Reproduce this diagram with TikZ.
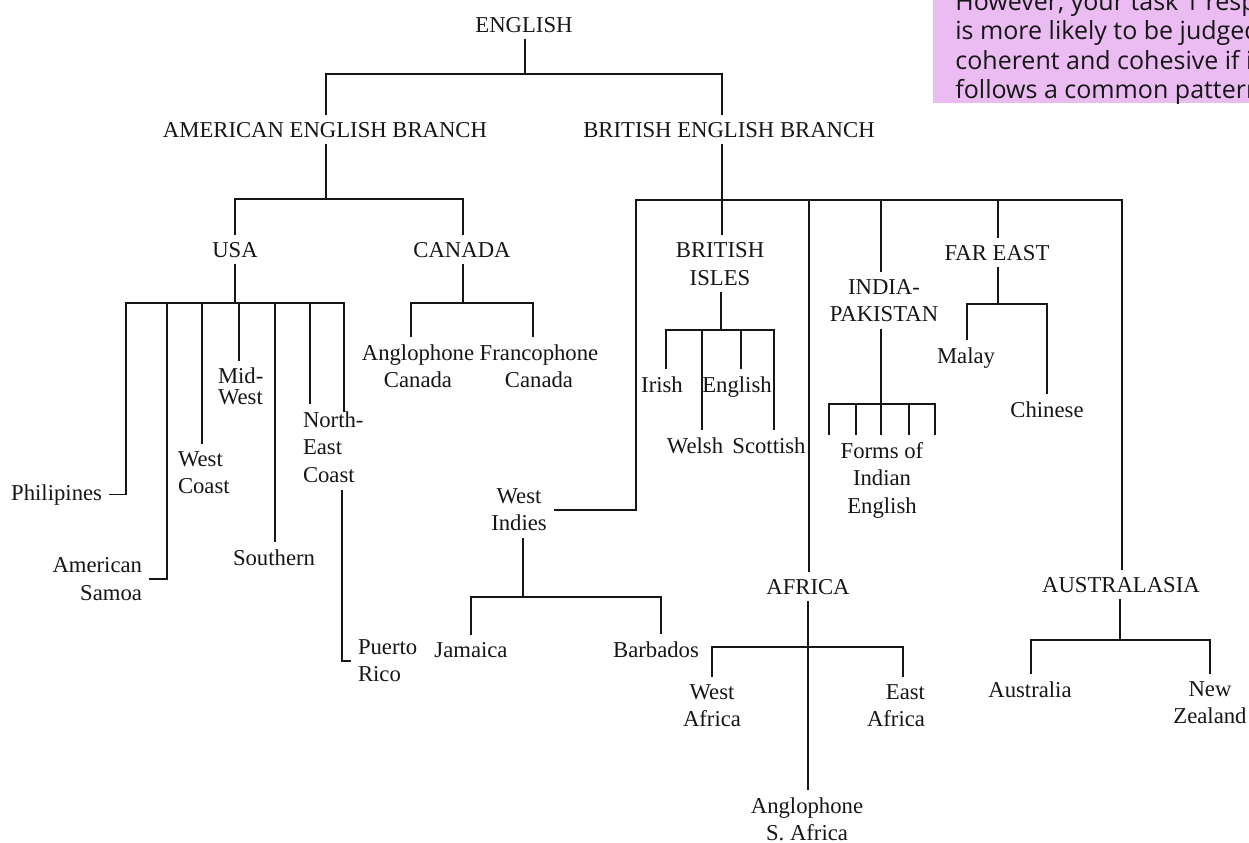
\documentclass[tikz,border=0pt]{standalone}
\usepackage{fontspec}
\setmainfont{Liberation Serif}
\newfontfamily\notefont{Open Sans}
\definecolor{notepink}{RGB}{234,188,242}
\definecolor{inkc}{RGB}{22,22,22}
\begin{document}
\begin{tikzpicture}[x=0.5pt,y=-0.5pt,
  lbl/.style={inner sep=0pt, outer sep=4pt, text=inkc, font=\fontsize{11.35}{13.75}\selectfont},
  ml/.style={lbl, align=center},
  conn/.style={line width=0.9pt, draw=inkc, line cap=rect}]
\useasboundingbox (0,0) rectangle (1249,842);
\fill[white] (0,0) rectangle (1249,842);
% note box
\begin{scope}
\clip (933,0) rectangle (1249,103);
\fill[notepink] (933,0) rectangle (1249,103);
\node (note) [anchor=base west, inner sep=0pt, text=inkc] at (955,10) {\notefont\fontsize{12.5}{14.75}\selectfont\begin{tabular}[t]{@{}l@{}}However, your task 1 response\\ is more likely to be judged\\ coherent and cohesive if it\\ follows a common pattern\end{tabular}};
\end{scope}
% labels
\node[lbl, anchor=base] (english) at (524,32) {ENGLISH};
\node[lbl, anchor=base] (amer) at (325,137) {AMERICAN ENGLISH BRANCH};
\node[lbl, anchor=base] (brit) at (729,137) {BRITISH ENGLISH BRANCH};
\node[lbl, anchor=base] (usa) at (235,257) {USA};
\node[lbl, anchor=base] (canada) at (462,257) {CANADA};
\node[lbl, anchor=base east] (phil) at (110,500) {Philipines};
\node[ml, align=right, anchor=north east] (samoa) at (150,549.5) {American\\Samoa};
\node[ml, align=left, anchor=north west] (westcoast) at (170,443.5) {West\\Coast};
\node[ml, align=left, anchor=north west] (midwest) at (210,360) {Mid-\\[-3.25pt]West};
\node[lbl, anchor=base] (southern) at (274,565) {Southern};
\node[ml, align=left, anchor=north west] (necoast) at (295,403.5) {North-\\East\\Coast};
\node[ml, align=left, anchor=north west] (puerto) at (350,631.5) {Puerto\\Rico};
\node[ml, anchor=north] (anglocan) at (418,336.5) {Anglophone\\Canada};
\node[ml, anchor=north] (francan) at (539,336.5) {Francophone\\Canada};
\node[ml, anchor=north] (westindies) at (519,480.5) {West\\Indies};
\node[lbl, anchor=base] (jamaica) at (471,657) {Jamaica};
\node[lbl, anchor=base] (barbados) at (656,657) {Barbados};
\node[ml, anchor=north] (britisles) at (720,234.5) {BRITISH\\ISLES};
\node[lbl, anchor=base] (irish) at (662,392) {Irish};
\node[lbl, anchor=base] (englishv) at (737,392) {English};
\node[lbl, anchor=base] (welsh) at (695,453) {Welsh};
\node[lbl, anchor=base] (scottish) at (769,453) {Scottish};
\node[lbl, anchor=base] (africa) at (808,594) {AFRICA};
\node[ml, anchor=north] (westafrica) at (712,676.5) {West\\Africa};
\node[ml, align=right, anchor=north east] (eastafrica) at (933,676.5) {East\\Africa};
\node[ml, anchor=north] (angsa) at (807,789.5) {Anglophone\\S. Africa};
\node[ml, anchor=north] (india) at (884,271.5) {INDIA-\\PAKISTAN};
\node[ml, anchor=north] (forms) at (882,434.5) {Forms of\\Indian\\English};
\node[lbl, anchor=base] (fareast) at (997,260) {FAR EAST};
\node[lbl, anchor=base] (malay) at (966,363) {Malay};
\node[lbl, anchor=base] (chinese) at (1047,417) {Chinese};
\node[lbl, anchor=base] (australasia) at (1121,592) {AUSTRALASIA};
\node[lbl, anchor=base] (australia) at (1030,697) {Australia};
\node[ml, anchor=north] (nz) at (1210,673.5) {New\\Zealand};
% junction coordinates
\coordinate (a0) at (525,74); \coordinate (a1) at (326,74); \coordinate (a2) at (722,74);
\coordinate (b0) at (326,199); \coordinate (b1) at (235,199); \coordinate (b2) at (463,199);
\coordinate (c0) at (235,303); \coordinate (c1) at (126,303); \coordinate (c2) at (167,303);
\coordinate (c3) at (202,303); \coordinate (c4) at (239,303); \coordinate (c5) at (275,303);
\coordinate (c6) at (310,303); \coordinate (c7) at (344,303); \coordinate (c8) at (342,303);
\coordinate (d0) at (463,303); \coordinate (d1) at (411,303); \coordinate (d2) at (533,303);
\coordinate (e0) at (722,200); \coordinate (e1) at (636,200); \coordinate (e2) at (722,200);
\coordinate (e3) at (809,200); \coordinate (e4) at (881,200); \coordinate (e5) at (998,200);
\coordinate (e6) at (1122,200);
\coordinate (f0) at (721,330); \coordinate (f1) at (666,330); \coordinate (f2) at (702,330);
\coordinate (f3) at (741,330); \coordinate (f4) at (774,330);
\coordinate (g0) at (881,404); \coordinate (g1) at (829,404); \coordinate (g2) at (856,404);
\coordinate (g3) at (881,404); \coordinate (g4) at (909,404); \coordinate (g5) at (935,404);
\coordinate (h0) at (998,304); \coordinate (h1) at (967,304); \coordinate (h2) at (1047,304);
\coordinate (i0) at (523,597); \coordinate (i1) at (471,597); \coordinate (i2) at (661,597);
\coordinate (j0) at (808,647); \coordinate (j1) at (712,647); \coordinate (j2) at (903,647);
\coordinate (k0) at (1120,640); \coordinate (k1) at (1031,640); \coordinate (k2) at (1210,640);
% connectors
\draw[conn] (english.south -| a0) -- (a0);
\draw[conn] (a1 |- amer.north) -- (a1) -- (a2) -- (a2 |- brit.north);
\draw[conn] (amer.south -| b0) -- (b0);
\draw[conn] (b1 |- usa.north) -- (b1) -- (b2) -- (b2 |- canada.north);
\draw[conn] (usa.south -| c0) -- (c0);
\draw[conn] (phil.east) -| (c1) -- (c7);
\draw[conn] (c2) |- (samoa.east);
\draw[conn] (c3) -- (c3 |- westcoast.north);
\draw[conn] (c4) -- (c4 |- midwest.north);
\draw[conn] (c5) -- (c5 |- southern.north);
\draw[conn] (c6) -- (c6 |- necoast.north);
\draw[conn] (c7) -- (c7 |- necoast.north) -- ++(0,8);
\draw[conn] (c8 |- necoast.south) |- (puerto.west);
\draw[conn] (canada.south -| d0) -- (d0);
\draw[conn] (d1 |- anglocan.north) -- (d1) -- (d2) -- (d2 |- francan.north);
\draw[conn] (brit.south -| e0) -- (e0);
\draw[conn] (westindies.east) -| (e1) -- (e6) -- (e6 |- australasia.north);
\draw[conn] (e2) -- (e2 |- britisles.north);
\draw[conn] (e3) -- (e3 |- africa.north);
\draw[conn] (e4) -- (e4 |- india.north);
\draw[conn] (e5) -- (e5 |- fareast.north);
\draw[conn] (britisles.south -| f0) -- (f0);
\draw[conn] (f1 |- irish.north) -- (f1) -- (f4) -- (f4 |- scottish.north);
\draw[conn] (f2) -- (f2 |- welsh.north);
\draw[conn] (f3) -- (f3 |- englishv.north);
\draw[conn] (india.south -| g0) -- (g0);
\draw[conn] (g1 |- forms.north) -- (g1) -- (g5) -- (g5 |- forms.north);
\draw[conn] (g2) -- (g2 |- forms.north);
\draw[conn] (g3) -- (g3 |- forms.north);
\draw[conn] (g4) -- (g4 |- forms.north);
\draw[conn] (fareast.south -| h0) -- (h0);
\draw[conn] (h1 |- malay.north) -- (h1) -- (h2) -- (h2 |- chinese.north);
\draw[conn] (westindies.south -| i0) -- (i0);
\draw[conn] (i1 |- jamaica.north) -- (i1) -- (i2) -- (i2 |- barbados.north);
\draw[conn] (africa.south -| j0) -- (j0 |- angsa.north);
\draw[conn] (j1 |- westafrica.north) -- (j1) -- (j2) -- (j2 |- eastafrica.north);
\draw[conn] (australasia.south -| k0) -- (k0);
\draw[conn] (k1 |- australia.north) -- (k1) -- (k2) -- (k2 |- nz.north);
\end{tikzpicture}
\end{document}
